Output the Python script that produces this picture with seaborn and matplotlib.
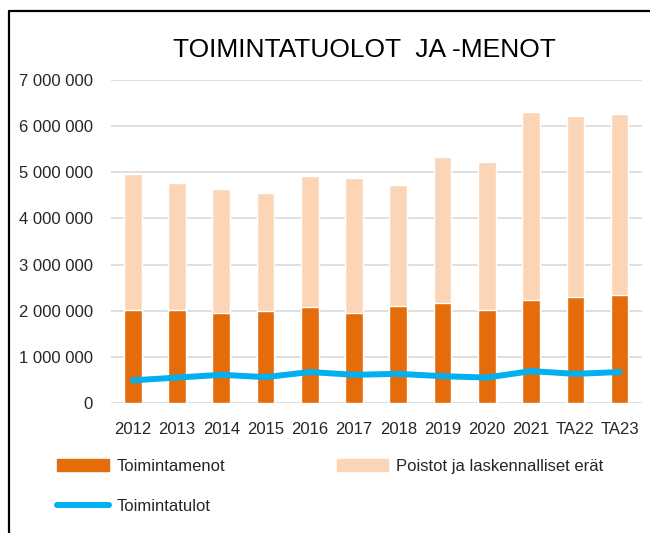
import numpy as np
import pandas as pd
import seaborn as sns
import matplotlib.pyplot as plt
from matplotlib.ticker import FuncFormatter
from matplotlib.lines import Line2D
from matplotlib.patches import Patch

years = ['2012', '2013', '2014', '2015', '2016', '2017', '2018', '2019', '2020', '2021', 'TA22', 'TA23']
toimintamenot = [2020000, 2020000, 1960000, 1990000, 2080000, 1960000, 2110000, 2160000, 2020000, 2240000, 2300000, 2350000]
poistot = [2950000, 2750000, 2670000, 2560000, 2830000, 2920000, 2610000, 3170000, 3200000, 4060000, 3910000, 3920000]
toimintatulot = [490000, 550000, 610000, 560000, 670000, 610000, 630000, 580000, 550000, 690000, 630000, 670000]

c_menot = '#E46C0A'
c_poistot = '#FBD5B5'
c_tulot = '#00B0F0'

sns.set_theme(style='white')
plt.rcParams['font.family'] = ['Liberation Sans', 'DejaVu Sans']

df = pd.DataFrame({'vuosi': years, 'menot': toimintamenot, 'poistot': poistot, 'tulot': toimintatulot})
df['yhteensa'] = df['menot'] + df['poistot']

fig = plt.figure(figsize=(6.5, 5.33), dpi=100)
ax = fig.add_axes([0.1703, 0.244, 0.817, 0.606])

# stacked bars: draw the total first, the lower part on top of it
sns.barplot(data=df, x='vuosi', y='yhteensa', color=c_poistot, width=0.4, saturation=1, ax=ax)
sns.barplot(data=df, x='vuosi', y='menot', color=c_menot, width=0.4, saturation=1, ax=ax)
sns.lineplot(x=np.arange(len(years)), y=df['tulot'], color=c_tulot, lw=4.3, ax=ax,
             solid_capstyle='round', solid_joinstyle='round')

ax.set_ylim(0, 7000000)
ax.set_xlim(-0.5, 11.5)
ax.set_yticks(range(0, 7000001, 1000000))
ax.yaxis.set_major_formatter(FuncFormatter(lambda v, p: f'{v:,.0f}'.replace(',', ' ')))
ax.grid(axis='y', color='#D9D9D9', lw=1.2)
ax.set_axisbelow(True)
for s in ax.spines.values():
    s.set_visible(False)
ax.tick_params(axis='both', length=0, labelsize=12, colors='#262626')
ax.tick_params(axis='y', pad=13)
ax.tick_params(axis='x', pad=14)
ax.set_xlabel('')
ax.set_ylabel('')

fig.text(0.561, 0.906, 'TOIMINTATUOLOT  JA -MENOT', ha='center', va='center', fontsize=19, color='black')

handles = [Patch(color=c_menot), Line2D([0], [0], color=c_tulot, lw=4.3, solid_capstyle='round'), Patch(color=c_poistot)]
labels = ['Toimintamenot', 'Toimintatulot', 'Poistot ja laskennalliset erät']
fig.legend(handles, labels, ncol=2, loc='upper left', bbox_to_anchor=(0.088, 0.139),
           frameon=False, fontsize=12, handlelength=3.1, handleheight=0.66,
           handletextpad=0.45, columnspacing=6.7, labelspacing=1.5, borderpad=0, borderaxespad=0,
           labelcolor='#262626')

# chart border (left and top edges visible)
fig.add_artist(Line2D([8.5 / 650, 8.5 / 650], [0, 1 - 11 / 533], color='black', lw=1.6))
fig.add_artist(Line2D([8.5 / 650, 1], [1 - 11 / 533, 1 - 11 / 533], color='black', lw=1.6))

fig.savefig('out.png', dpi=100)
